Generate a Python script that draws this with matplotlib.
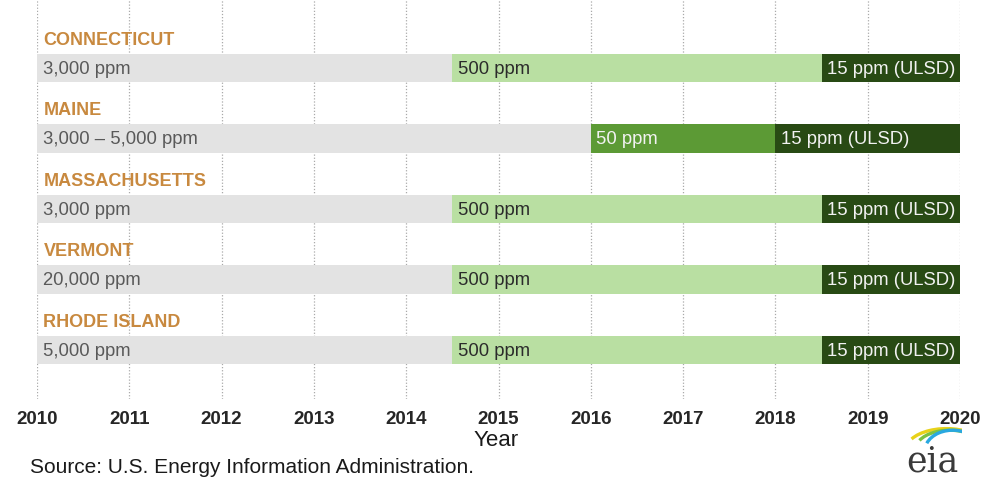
import matplotlib
matplotlib.use("Agg")
import matplotlib.pyplot as plt
from matplotlib.patches import Arc

plt.rcParams['font.family'] = ['Liberation Sans', 'DejaVu Sans']

states = ["CONNECTICUT", "MAINE", "MASSACHUSETTS", "VERMONT", "RHODE ISLAND"]
seg_starts = [
    [2010, 2014.5, 2018.5],
    [2010, 2016, 2018],
    [2010, 2014.5, 2018.5],
    [2010, 2014.5, 2018.5],
    [2010, 2014.5, 2018.5],
]
end_year = 2020
seg_labels = [
    ["3,000 ppm", "500 ppm", "15 ppm (ULSD)"],
    ["3,000 \u2013 5,000 ppm", "50 ppm", "15 ppm (ULSD)"],
    ["3,000 ppm", "500 ppm", "15 ppm (ULSD)"],
    ["20,000 ppm", "500 ppm", "15 ppm (ULSD)"],
    ["5,000 ppm", "500 ppm", "15 ppm (ULSD)"],
]
seg_kinds = [
    ["high", "500", "ulsd"],
    ["high", "50", "ulsd"],
    ["high", "500", "ulsd"],
    ["high", "500", "ulsd"],
    ["high", "500", "ulsd"],
]
years = list(range(2010, 2021))

fill = {"high": "#E3E3E3", "500": "#B9DFA2", "50": "#5C9A35", "ulsd": "#284A14"}
txtc = {"high": "#595959", "500": "#2B2B2B", "50": "#F2F2F2", "ulsd": "#F2F2F2"}

fig = plt.figure(figsize=(9.81, 4.81), dpi=100)
ax = fig.add_axes([37/981, 1-400/481, (960-37)/981, 400/481])

for i, (st, starts, labs, kinds) in enumerate(zip(states, seg_starts, seg_labels, seg_kinds)):
    ends = starts[1:] + [end_year]
    for s, e, lab, k in zip(starts, ends, labs, kinds):
        ax.barh(i, e - s, left=s, height=0.41, color=fill[k], zorder=2)
        ax.text(s + 0.06, i, lab, va="center", ha="left", fontsize=13.3,
                color=txtc[k], zorder=3)
    ax.text(2010.07, i - 0.41, st, va="center", ha="left", fontsize=13,
            fontweight="bold", color="#C8893F", zorder=3)

ax.set_xlim(2010, 2020)
ax.set_ylim(4.695, -0.979)
ax.set_xticks(years)
ax.set_xticklabels([str(y) for y in years], fontsize=13.5, fontweight="bold",
                   color="#262626")
ax.tick_params(axis="x", length=0, pad=8)
ax.set_yticks([])
for sp in ax.spines.values():
    sp.set_visible(False)
ax.xaxis.grid(True, linestyle=(0, (1, 1.5)), color="#AAAAAA", linewidth=0.9, zorder=1)
ax.set_axisbelow(True)

fig.text(496/981, 1-440/481, "Year", fontsize=16, color="#1a1a1a",
         ha="center", va="center")
fig.text(30/981, 1-468/481, "Source: U.S. Energy Information Administration.",
         fontsize=15, color="#1a1a1a", va="center", ha="left")

# eia logo
fig.text(932/981, 1-462/481, "eia", fontsize=25, family="DejaVu Serif",
         color="#3A3A3A", ha="center", va="center")
lax = fig.add_axes([900/981, 1-452/481, 62/981, 32/481])
lax.set_xlim(0, 1); lax.set_ylim(0, 1); lax.axis("off")
for (cx, cy, w, h, c) in [(0.75, 0.05, 1.3, 1.3, "#E8D21A"),
                          (0.80, 0.05, 1.1, 1.2, "#7CC242"),
                          (0.85, 0.0, 0.9, 1.3, "#29A8E0")]:
    lax.add_patch(Arc((cx, cy), w, h, theta1=10, theta2=150,
                      color=c, linewidth=2.4))

fig.savefig("out.png", dpi=100, facecolor="white")
